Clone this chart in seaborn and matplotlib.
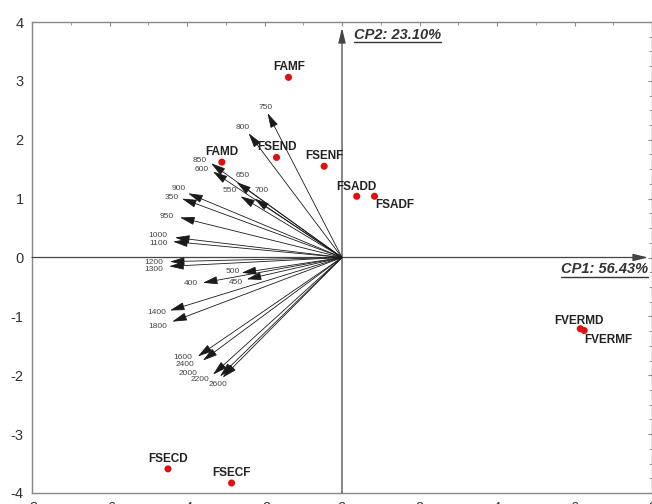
import numpy as np
import pandas as pd
import matplotlib
matplotlib.use("Agg")
import matplotlib.pyplot as plt
import seaborn as sns
from matplotlib.lines import Line2D
from matplotlib.transforms import IdentityTransform

# --- DATA ---
# loadings (wavelength variables)
var_names = ['350', '400', '450', '500', '550', '600', '650', '700', '750', '800',
             '850', '900', '950', '1000', '1100', '1200', '1300', '1400', '1600',
             '1800', '2000', '2200', '2400', '2600']
var_x = [-4.13, -3.59, -2.46, -2.59, -2.62, -3.33, -2.72, -2.26, -1.92, -2.41,
         -3.38, -3.97, -4.18, -4.31, -4.36, -4.44, -4.46, -4.44, -3.72,
         -4.38, -3.33, -3.15, -3.59, -3.08]
var_y = [1.00, -0.43, -0.37, -0.26, 1.04, 1.46, 1.28, 1.00, 2.45, 2.11,
         1.60, 1.09, 0.68, 0.34, 0.27, -0.07, -0.15, -0.90, -1.68,
         -1.09, -1.99, -2.02, -1.75, -2.04]

# scores (samples)
obs_names = ['FAMF', 'FAMD', 'FSEND', 'FSENF', 'FSADD', 'FSADF',
             'FVERMD', 'FVERMF', 'FSECD', 'FSECF']
obs_x = [-1.38, -3.10, -1.69, -0.46, 0.38, 0.84, 6.15, 6.25, -4.49, -2.85]
obs_y = [3.06, 1.62, 1.70, 1.55, 1.04, 1.04, -1.21, -1.24, -3.59, -3.83]

cp1_label = "CP1: 56.43%"
cp2_label = "CP2: 23.10%"

# label offsets in pixels (label centre relative to arrow tip / point)
var_off = {'750': (-2, 6), '800': (-6, 6), '850': (-11, 3), '600': (-11, 2),
           '650': (6, 7), '550': (-11, 6), '700': (7, 8), '900': (-9, 5),
           '350': (-10, 1), '950': (-13, 1), '1000': (-17, 2), '1100': (-15, -2),
           '1200': (-16, -1), '1300': (-15, -3), '500': (-9, 1), '450': (-11, -3),
           '400': (-12, -1), '1400': (-13, -2), '1800': (-14, -5), '1600': (-15, -1),
           '2400': (-18, -4), '2000': (-25, 1), '2200': (-20, -3), '2600': (-5, -7)}
obs_off = {'FAMF': (1, 10), 'FAMD': (0, 10), 'FSEND': (0, 10), 'FSENF': (0, 10),
           'FSADD': (0, 9), 'FSADF': (20, -9), 'FVERMD': (-1, 8),
           'FVERMF': (24, -9), 'FSECD': (0, 10), 'FSECF': (0, 10)}

sns.set_style("white")
plt.rcParams['font.family'] = ['Liberation Sans', 'DejaVu Sans']
plt.rcParams['axes.unicode_minus'] = False

fig = plt.figure(figsize=(6.52, 5.04), dpi=100)
ax = fig.add_axes([32 / 652, 11 / 504, 620 / 652, 471 / 504])
ax.set_xlim(-8, 7.95)
ax.set_ylim(-4, 4)

# axes through origin with arrows
ax.annotate('', xy=(7.9, 0), xytext=(-8, 0),
            arrowprops=dict(arrowstyle='-|>,head_length=0.9,head_width=0.22',
                            color='#444444', lw=0.9, shrinkA=0, shrinkB=0))
ax.annotate('', xy=(0, 3.9), xytext=(0, -4),
            arrowprops=dict(arrowstyle='-|>,head_length=0.9,head_width=0.22',
                            color='#444444', lw=0.9, shrinkA=0, shrinkB=0))

# loading vectors
for name, x, y in zip(var_names, var_x, var_y):
    ax.annotate('', xy=(x, y), xytext=(0, 0),
                arrowprops=dict(arrowstyle='-|>,head_length=0.9,head_width=0.25',
                                color='#1a1a1a', lw=0.6, shrinkA=0, shrinkB=0))
    dx, dy = var_off[name]
    ax.annotate(name, xy=(x, y), xytext=(dx, dy), textcoords='offset pixels',
                ha='center', va='center', fontsize=6, color='#444444')

# scores
df = pd.DataFrame({'x': obs_x, 'y': obs_y, 'name': obs_names})
sns.scatterplot(data=df, x='x', y='y', ax=ax, color='#e01010', s=26,
                edgecolor='none', zorder=5)
for name, x, y in zip(obs_names, obs_x, obs_y):
    dx, dy = obs_off[name]
    ax.annotate(name, xy=(x, y), xytext=(dx, dy), textcoords='offset pixels',
                ha='center', va='center', fontsize=8.5, fontweight='bold',
                color='#222222')

t1 = ax.text(5.66, -0.2, cp1_label, ha='left', va='center', fontsize=10.5,
             fontweight='bold', fontstyle='italic', color='#333333')
t2 = ax.text(0.31, 3.78, cp2_label, ha='left', va='center', fontsize=10.5,
             fontweight='bold', fontstyle='italic', color='#333333')

ax.set_xlabel('')
ax.set_ylabel('')
ax.set_xticks(np.arange(-8, 9, 2))
ax.set_xticks(np.arange(-8, 9, 1), minor=True)
ax.set_yticks(np.arange(-4, 5, 1))
ax.set_yticks(np.arange(-4, 4.01, 0.25), minor=True)
ax.tick_params(which='both', direction='in', top=True, right=True,
               color='#888888', labelsize=10.5, labelcolor='#333333')
ax.tick_params(which='major', length=3, pad=6)
ax.tick_params(which='minor', length=2)
for s in ax.spines.values():
    s.set_color('#888888')
    s.set_linewidth(1)

# underline the component labels
fig.canvas.draw()
for t in (t1, t2):
    bb = t.get_window_extent()
    fig.add_artist(Line2D([bb.x0, bb.x1], [bb.y0 - 0.5, bb.y0 - 0.5],
                          transform=IdentityTransform(), color='#333333', lw=1))

fig.savefig('out.png', dpi=100)
